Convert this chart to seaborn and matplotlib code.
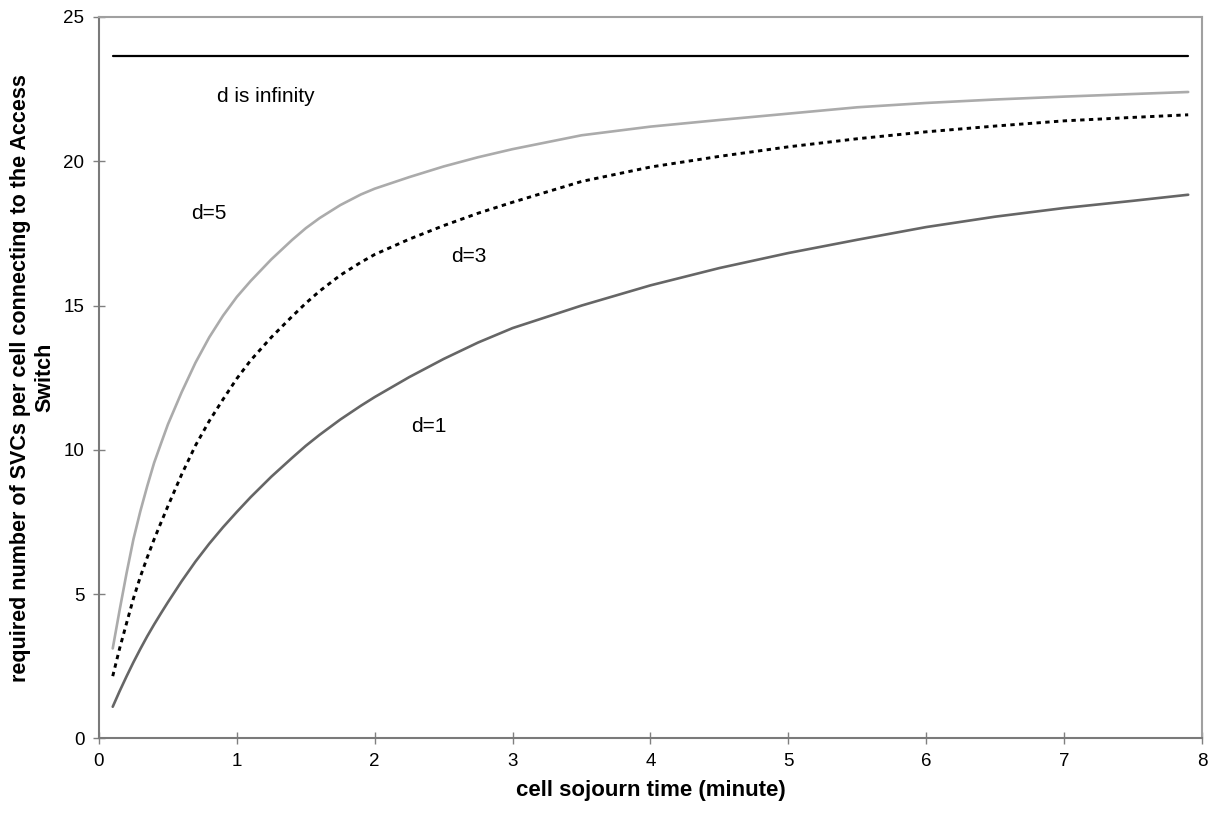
# plot.py - required SVCs per cell vs. cell sojourn time

import matplotlib
matplotlib.use("Agg")
import matplotlib.pyplot as plt
import seaborn as sns

# --- data ---
sojourn = [0.1, 0.15, 0.2, 0.25, 0.3, 0.35, 0.4, 0.45, 0.5, 0.6, 0.7, 0.8, 0.9,
           1.0, 1.1, 1.25, 1.4, 1.5, 1.6, 1.75, 1.9, 2.0, 2.25, 2.5, 2.75,
           3.0, 3.5, 4.0, 4.5, 5.0, 5.5, 6.0, 6.5, 7.0, 7.5, 7.9]

svc_d1 = [1.10, 1.64, 2.15, 2.64, 3.10, 3.54, 3.95, 4.34, 4.72, 5.45, 6.13, 6.75, 7.32,
          7.85, 8.36, 9.07, 9.72, 10.14, 10.52, 11.05, 11.53, 11.83, 12.52, 13.15, 13.72,
          14.22, 15.0, 15.7, 16.3, 16.82, 17.28, 17.72, 18.08, 18.38, 18.63, 18.84]

svc_d3 = [2.16, 3.12, 3.99, 4.85, 5.6, 6.27, 6.9, 7.48, 8.05, 9.15, 10.15, 11.0, 11.75,
          12.47, 13.1, 13.9, 14.62, 15.08, 15.5, 16.05, 16.5, 16.77, 17.3, 17.77, 18.2,
          18.58, 19.3, 19.8, 20.17, 20.5, 20.78, 21.02, 21.22, 21.4, 21.52, 21.61]

svc_d5 = [3.12, 4.45, 5.72, 6.9, 7.87, 8.74, 9.55, 10.22, 10.88, 12.0, 13.02, 13.9, 14.65,
          15.3, 15.85, 16.6, 17.27, 17.68, 18.03, 18.48, 18.85, 19.05, 19.45, 19.82, 20.14,
          20.42, 20.9, 21.2, 21.43, 21.65, 21.87, 22.02, 22.14, 22.24, 22.33, 22.40]

inf_x = [0.1, 7.9]
inf_y = [23.65, 23.65]

# curve labels: (text, x, y)
curve_labels = [("d is infinity", 1.21, 22.24),
                ("d=5", 0.80, 18.2),
                ("d=3", 2.68, 16.7),
                ("d=1", 2.39, 10.8)]

x_ticks = [0, 1, 2, 3, 4, 5, 6, 7, 8]
y_ticks = [0, 5, 10, 15, 20, 25]

# --- styling ---
sns.set_theme(style="white")
plt.rcParams['font.family'] = ['Liberation Sans', 'DejaVu Sans']
plt.rcParams['text.color'] = 'black'
plt.rcParams['axes.labelcolor'] = 'black'

fig = plt.figure(figsize=(12.14, 8.19), dpi=100)
ax = fig.add_axes([0.0815, 0.0983, 0.9086, 0.8810])

sns.lineplot(x=inf_x, y=inf_y, ax=ax, color="black", linewidth=1.6)
sns.lineplot(x=sojourn, y=svc_d5, ax=ax, color="#ababab", linewidth=1.9)
sns.lineplot(x=sojourn, y=svc_d3, ax=ax, color="black", linewidth=2.1,
             dashes=False, linestyle=(0, (1.5, 1.5)))
sns.lineplot(x=sojourn, y=svc_d1, ax=ax, color="#666666", linewidth=1.9)

for text, tx, ty in curve_labels:
    ax.text(tx, ty, text, fontsize=15, ha="center", va="center", color="black")

ax.set_xlim(0, 8)
ax.set_ylim(0, 25)
ax.set_xticks(x_ticks)
ax.set_yticks(y_ticks)
ax.tick_params(axis="both", direction="inout", length=9, width=1,
               color="#808080", labelsize=13.5, labelcolor="black", pad=6)
ax.tick_params(axis="x", bottom=True)
ax.tick_params(axis="y", left=True)

for side, spine in ax.spines.items():
    spine.set_visible(True)
    spine.set_linewidth(1.5)
    spine.set_color("#7a7a7a" if side in ("left", "bottom") else "#a0a0a0")

ax.set_xlabel("cell sojourn time (minute)", fontsize=16, fontweight="bold",
              labelpad=7)
ax.set_ylabel("required number of SVCs per cell connecting to the Access\nSwitch",
              fontsize=15.5, fontweight="bold", labelpad=6, linespacing=1.2)
ax.grid(False)

fig.savefig("out.png", dpi=100)
plt.close(fig)
